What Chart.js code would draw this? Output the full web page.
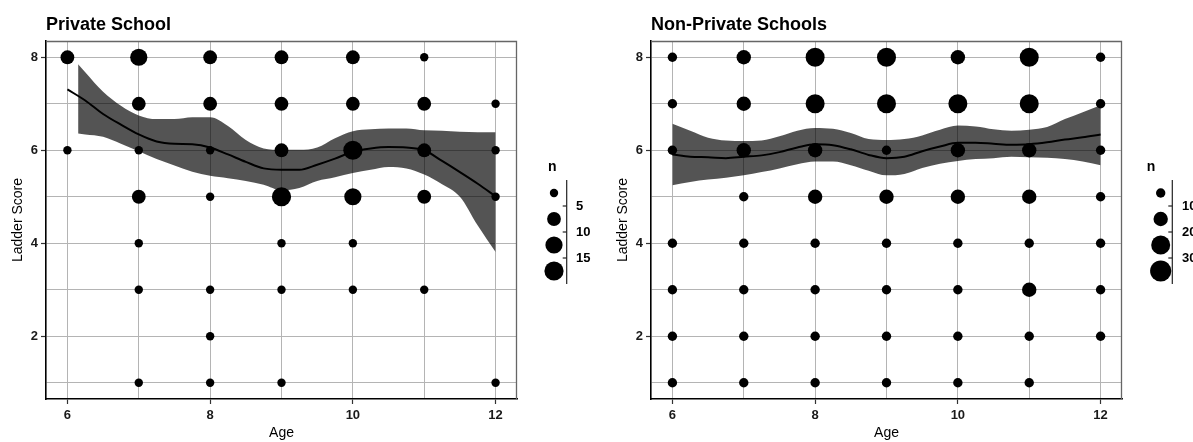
<!DOCTYPE html>
<html>
<head>
<meta charset="utf-8">
<script src="https://cdn.jsdelivr.net/npm/chart.js@4.4.1/dist/chart.umd.min.js"></script>
<style>
  body { margin: 0; background: #fff; }
  #wrap { position: relative; width: 1193px; height: 442px; overflow: hidden; }
  canvas { position: absolute; top: 0; }
</style>
</head>
<body>
<div id="wrap">
  <canvas id="chart-private" width="605" height="442" style="left:0"></canvas>
  <canvas id="chart-public" width="588" height="442" style="left:605px"></canvas>
</div>
<script>
// eixos
const ageTicks = [6, 7, 8, 9, 10, 11, 12];
const ageLabels = [6, 8, 10, 12];
const scoreTicks = [1, 2, 3, 4, 5, 6, 7, 8];
const scoreLabels = [2, 4, 6, 8];

// Private School: pontos (idade, nota, n)
const privateAge   = [6, 6, 7, 7, 7, 7, 7, 7, 7, 8, 8, 8, 8, 8, 8, 8, 9, 9, 9, 9, 9, 9, 9, 10, 10, 10, 10, 10, 10, 11, 11, 11, 11, 11, 12, 12, 12, 12];
const privateScore = [8, 6, 8, 7, 6, 5, 4, 3, 1, 8, 7, 6, 5, 3, 2, 1, 8, 7, 6, 5, 4, 3, 1, 8, 7, 6, 5, 4, 3, 8, 7, 6, 5, 3, 7, 6, 5, 1];
const privateN     = [7, 2, 12, 7, 2, 7, 1, 1, 1, 6, 7, 2, 1, 1, 1, 1, 6, 7, 7, 17, 1, 1, 1, 7, 7, 16, 12, 1, 1, 1, 7, 7, 7, 1, 2, 2, 1, 1];
const privateBreaks = [5, 10, 15];

// Private School: curva suavizada e intervalo
const privateFitAge = [6, 6.25, 6.5, 6.75, 7, 7.25, 7.5, 7.75, 8, 8.25, 8.5, 8.75, 9, 9.25, 9.5, 9.75, 10, 10.25, 10.5, 10.75, 11, 11.25, 11.5, 11.75, 12];
const privateFit    = [7.31, 7.07, 6.78, 6.55, 6.34, 6.19, 6.14, 6.13, 6.06, 5.91, 5.75, 5.61, 5.58, 5.58, 5.69, 5.82, 5.97, 6.04, 6.07, 6.06, 6.00, 5.77, 5.53, 5.28, 5.01];
const privateBandAge = [6.15, 6.25, 6.5, 6.75, 7, 7.25, 7.5, 7.75, 8, 8.25, 8.5, 8.75, 9, 9.25, 9.5, 9.75, 10, 10.25, 10.5, 10.75, 11, 11.25, 11.5, 11.75, 12];
const privateUpper  = [7.85, 7.68, 7.26, 6.96, 6.75, 6.67, 6.67, 6.71, 6.71, 6.52, 6.22, 6.04, 6.01, 6.01, 6.06, 6.26, 6.41, 6.45, 6.47, 6.47, 6.43, 6.42, 6.40, 6.39, 6.39];
const privateLower  = [6.36, 6.34, 6.29, 6.14, 5.98, 5.81, 5.67, 5.54, 5.45, 5.40, 5.34, 5.26, 5.14, 5.19, 5.34, 5.42, 5.51, 5.58, 5.64, 5.61, 5.48, 5.27, 5.00, 4.38, 3.81];

// Non-Private Schools: pontos
const publicAge   = [6, 6, 6, 6, 6, 6, 6, 7, 7, 7, 7, 7, 7, 7, 7, 8, 8, 8, 8, 8, 8, 8, 8, 9, 9, 9, 9, 9, 9, 9, 9, 10, 10, 10, 10, 10, 10, 10, 10, 11, 11, 11, 11, 11, 11, 11, 11, 12, 12, 12, 12, 12, 12, 12];
const publicScore = [8, 7, 6, 4, 3, 2, 1, 8, 7, 6, 5, 4, 3, 2, 1, 8, 7, 6, 5, 4, 3, 2, 1, 8, 7, 6, 5, 4, 3, 2, 1, 8, 7, 6, 5, 4, 3, 2, 1, 8, 7, 6, 5, 4, 3, 2, 1, 8, 7, 6, 5, 4, 3, 2];
const publicN     = [4, 3, 6, 3, 2, 2, 2, 14, 15, 16, 5, 4, 3, 3, 2, 25, 26, 14, 13, 4, 3, 2, 2, 24, 27, 6, 13, 4, 3, 3, 2, 14, 28, 16, 14, 4, 3, 2, 2, 25, 26, 16, 15, 5, 12, 3, 2, 3, 4, 4, 3, 2, 3, 2];
const publicBreaks = [10, 20, 30];

// Non-Private Schools: curva suavizada e intervalo
const publicFitAge = [6, 6.25, 6.5, 6.75, 7, 7.25, 7.5, 7.75, 8, 8.25, 8.5, 8.75, 9, 9.25, 9.5, 9.75, 10, 10.25, 10.5, 10.75, 11, 11.25, 11.5, 11.75, 12];
const publicFit   = [5.91, 5.86, 5.85, 5.83, 5.86, 5.89, 5.96, 6.06, 6.13, 6.11, 6.02, 5.90, 5.83, 5.86, 5.98, 6.08, 6.16, 6.16, 6.14, 6.12, 6.13, 6.17, 6.23, 6.28, 6.34];
const publicUpper = [6.57, 6.42, 6.27, 6.21, 6.20, 6.21, 6.30, 6.42, 6.48, 6.46, 6.37, 6.24, 6.22, 6.24, 6.32, 6.44, 6.53, 6.51, 6.45, 6.42, 6.44, 6.50, 6.67, 6.82, 6.97];
const publicLower = [5.25, 5.32, 5.37, 5.41, 5.46, 5.53, 5.61, 5.70, 5.76, 5.76, 5.68, 5.56, 5.46, 5.49, 5.62, 5.71, 5.77, 5.81, 5.83, 5.86, 5.85, 5.84, 5.81, 5.76, 5.68];

const FONT = '"Liberation Sans", Arial, sans-serif';

function binIndex(n, breaks) {
    return breaks.filter(b => n > b).length;
}

function toXY(xs, ys) {
    return xs.map((x, i) => ({ x: x, y: ys[i] }));
}

// titulo, borda superior/direita e legenda de tamanho
const panelDecor = {
    id: 'panelDecor',
    afterDraw(chart, args, opts) {
        const { ctx, chartArea: a } = chart;
        ctx.save();

        ctx.fillStyle = '#000';
        ctx.font = `bold 18px ${FONT}`;
        ctx.textAlign = 'left';
        ctx.textBaseline = 'alphabetic';
        ctx.fillText(opts.title, a.left, 29.5);

        ctx.strokeStyle = '#666';
        ctx.lineWidth = 1.3;
        ctx.beginPath();
        ctx.moveTo(a.left, a.top + 0.5);
        ctx.lineTo(a.right - 0.5, a.top + 0.5);
        ctx.lineTo(a.right - 0.5, a.bottom);
        ctx.stroke();

        // legenda "n"
        ctx.font = `bold 14px ${FONT}`;
        ctx.fillText('n', opts.nX, 171);
        const keyY = [193, 219, 245, 271];
        opts.radii.forEach((r, i) => {
            ctx.beginPath();
            ctx.arc(opts.cx, keyY[i], r, 0, Math.PI * 2);
            ctx.fill();
        });
        ctx.strokeStyle = '#222';
        ctx.lineWidth = 1.2;
        ctx.beginPath();
        ctx.moveTo(opts.lineX, 180);
        ctx.lineTo(opts.lineX, 284);
        ctx.stroke();
        ctx.font = `bold 13px ${FONT}`;
        ctx.textBaseline = 'middle';
        opts.breaks.forEach((b, i) => {
            const ty = (keyY[i] + keyY[i + 1]) / 2;
            ctx.beginPath();
            ctx.moveTo(opts.lineX - 4, ty);
            ctx.lineTo(opts.lineX, ty);
            ctx.stroke();
            ctx.fillText(String(b), opts.labelX, ty);
        });
        ctx.restore();
    }
};

function makeChart(canvasId, title, points, fit, band, breaks, style) {
    const radii = style.radii;
    const ctx = document.getElementById(canvasId).getContext('2d');
    return new Chart(ctx, {
        type: 'scatter',
        data: {
            datasets: [
                {
                    type: 'line',
                    data: band.lower,
                    borderColor: 'rgba(0,0,0,0)',
                    borderWidth: 0,
                    pointRadius: 0,
                    fill: false,
                    cubicInterpolationMode: 'monotone',
                    order: 3
                },
                {
                    type: 'line',
                    data: band.upper,
                    borderColor: 'rgba(0,0,0,0)',
                    borderWidth: 0,
                    pointRadius: 0,
                    fill: '-1',
                    backgroundColor: 'rgba(0,0,0,0.67)',
                    cubicInterpolationMode: 'monotone',
                    order: 2
                },
                {
                    type: 'line',
                    data: fit,
                    borderColor: '#000',
                    borderWidth: 2,
                    pointRadius: 0,
                    fill: false,
                    cubicInterpolationMode: 'monotone',
                    order: 1
                },
                {
                    type: 'scatter',
                    data: points,
                    backgroundColor: '#000',
                    borderWidth: 0,
                    pointRadius: c => (c.raw ? radii[binIndex(c.raw.n, breaks)] : 3),
                    order: 0
                }
            ]
        },
        options: {
            responsive: false,
            devicePixelRatio: 1,
            animation: false,
            events: [],
            layout: { padding: { top: 41, right: style.padRight, bottom: 0, left: 0 } },
            plugins: {
                legend: { display: false },
                tooltip: { enabled: false },
                panelDecor: Object.assign({ title: title, breaks: breaks }, style)
            },
            scales: {
                x: {
                    type: 'linear',
                    min: 5.7,
                    max: 12.3,
                    afterBuildTicks: s => { s.ticks = ageTicks.map(v => ({ value: v })); },
                    afterFit: s => { s.height = 43; },
                    ticks: {
                        callback: v => (ageLabels.includes(v) ? String(v) : ''),
                        color: '#1a1a1a',
                        padding: 4,
                        maxRotation: 0,
                        font: { family: FONT, size: 13, weight: 'bold' }
                    },
                    grid: {
                        color: '#b4b4b4',
                        lineWidth: 1,
                        tickLength: 5,
                        tickWidth: 1.2,
                        tickColor: c => (c.tick && ageLabels.includes(c.tick.value) ? '#333' : 'rgba(0,0,0,0)')
                    },
                    border: { color: '#000', width: 1.6 },
                    title: {
                        display: true,
                        text: 'Age',
                        color: '#000',
                        padding: { top: 0, bottom: 0 },
                        font: { family: FONT, size: 14 }
                    }
                },
                y: {
                    type: 'linear',
                    min: 0.65,
                    max: 8.35,
                    afterBuildTicks: s => { s.ticks = scoreTicks.map(v => ({ value: v })); },
                    afterFit: s => { s.width = 46; },
                    ticks: {
                        callback: v => (scoreLabels.includes(v) ? String(v) : ''),
                        color: '#1a1a1a',
                        padding: 3,
                        font: { family: FONT, size: 13, weight: 'bold' }
                    },
                    grid: {
                        color: '#b4b4b4',
                        lineWidth: 1,
                        tickLength: 5,
                        tickWidth: 1.2,
                        tickColor: c => (c.tick && scoreLabels.includes(c.tick.value) ? '#333' : 'rgba(0,0,0,0)')
                    },
                    border: { color: '#000', width: 1.6 },
                    title: {
                        display: true,
                        text: 'Ladder Score',
                        color: '#000',
                        padding: { top: 10, bottom: 0 },
                        font: { family: FONT, size: 14 }
                    }
                }
            }
        },
        plugins: [panelDecor]
    });
}

const privatePoints = privateAge.map((a, i) => ({ x: a, y: privateScore[i], n: privateN[i] }));
const publicPoints = publicAge.map((a, i) => ({ x: a, y: publicScore[i], n: publicN[i] }));

makeChart('chart-private', 'Private School', privatePoints,
    toXY(privateFitAge, privateFit),
    { lower: toXY(privateBandAge, privateLower), upper: toXY(privateBandAge, privateUpper) },
    privateBreaks,
    { padRight: 88, nX: 548, cx: 554, lineX: 566.7, labelX: 576, radii: [4.2, 6.9, 8.6, 9.6] });

makeChart('chart-public', 'Non-Private Schools', publicPoints,
    toXY(publicFitAge, publicFit),
    { lower: toXY(publicFitAge, publicLower), upper: toXY(publicFitAge, publicUpper) },
    publicBreaks,
    { padRight: 71, nX: 541.7, cx: 555.7, lineX: 567.3, labelX: 577, radii: [4.7, 7.2, 9.5, 10.6] });
</script>
</body>
</html>
